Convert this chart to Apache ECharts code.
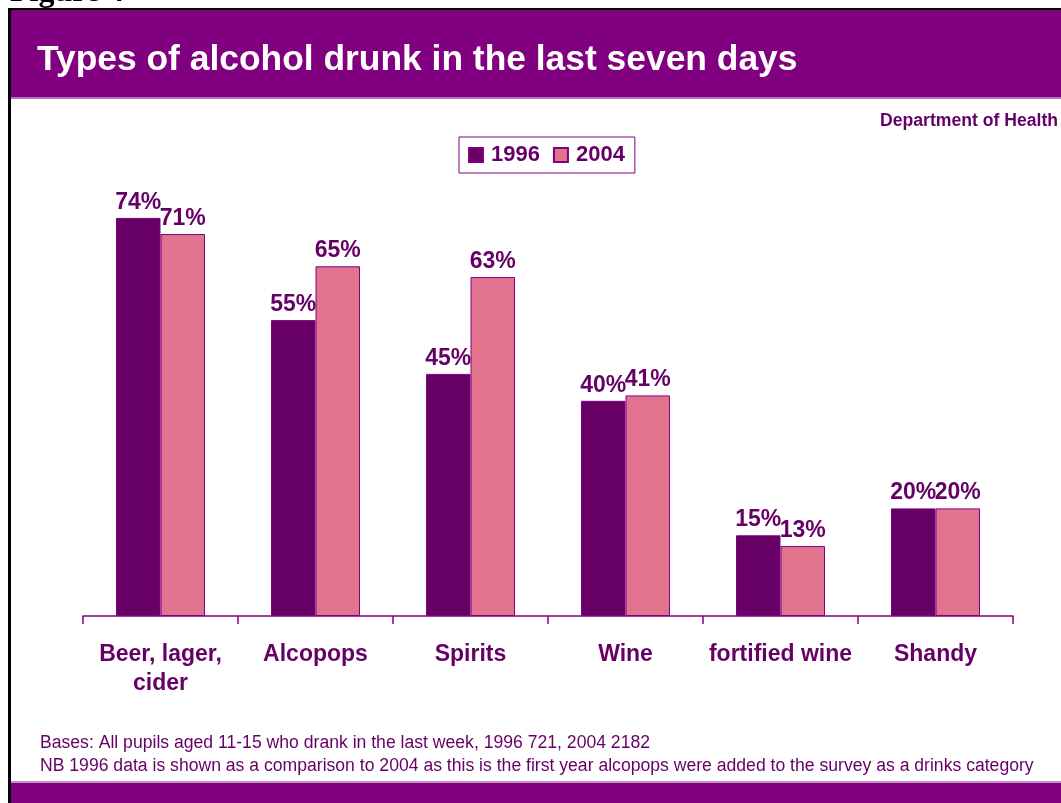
<!DOCTYPE html>
<html>
<head>
<meta charset="utf-8">
<title>Types of alcohol drunk in the last seven days</title>
<script src="https://cdn.jsdelivr.net/npm/echarts@6/dist/echarts.min.js"></script>
<style>
  html, body { margin: 0; padding: 0; background: #ffffff; }
  #chart { width: 1061px; height: 803px; }
</style>
</head>
<body>
<div id="chart"></div>
<script>
// Drink categories and the share of pupils (%) who drank each type
const categories = ['Beer, lager,\ncider', 'Alcopops', 'Spirits', 'Wine', 'fortified wine', 'Shandy'];
const values1996 = [74, 55, 45, 40, 15, 20];
const values2004 = [71, 65, 63, 41, 13, 20];
const seriesNames = ['1996', '2004'];

const titleText = 'Types of alcohol drunk in the last seven days';
const figureText = 'Figure 4';
const sourceText = 'Department of Health';
const noteLines = [
  'Bases: All pupils aged 11-15 who drank in the last week, 1996 721, 2004 2182',
  'NB 1996 data is shown as a comparison to 2004 as this is the first year alcopops were added to the survey as a drinks category'
];

const PURPLE = '#800080';
const DARK = '#660066';
const PINK = '#e2738f';
const FONT = 'Arial, "Liberation Sans", sans-serif';

const chart = echarts.init(document.getElementById('chart'), null, { renderer: 'canvas' });

const barLabel = {
  show: true,
  position: 'top',
  distance: 4,
  formatter: '{c}%',
  color: DARK,
  fontWeight: 'bold',
  fontSize: 23,
  fontFamily: FONT
};

chart.setOption({
  backgroundColor: '#ffffff',
  animation: false,
  graphic: [
    // figure caption above the frame
    { type: 'text', left: 10, top: -23, z: 1,
      style: { text: figureText, fill: '#000', font: 'bold 32px "Times New Roman", "Liberation Serif", serif' } },
    // outer frame
    { type: 'rect', shape: { x: 9, y: 8, width: 1060, height: 2 }, style: { fill: '#000' } },
    { type: 'rect', shape: { x: 8, y: 8, width: 3, height: 800 }, style: { fill: '#000' } },
    // title band
    { type: 'rect', shape: { x: 11, y: 10, width: 1050, height: 87 }, style: { fill: PURPLE } },
    { type: 'rect', shape: { x: 11, y: 97, width: 1050, height: 2 }, style: { fill: '#b870b8' } },
    { type: 'text', x: 37, y: 60,
      style: { text: titleText, fill: '#ffffff', font: 'bold 35.4px ' + FONT, verticalAlign: 'middle' } },
    // source
    { type: 'text', x: 1058, y: 121,
      style: { text: sourceText, fill: DARK, font: 'bold 17.6px ' + FONT, align: 'right', verticalAlign: 'middle' } },
    // notes
    { type: 'text', x: 40, y: 743,
      style: { text: noteLines[0], fill: DARK, font: '17.6px ' + FONT, verticalAlign: 'middle' } },
    { type: 'text', x: 40, y: 766,
      style: { text: noteLines[1], fill: DARK, font: '17.6px ' + FONT, verticalAlign: 'middle' } },
    // footer band
    { type: 'rect', shape: { x: 11, y: 781, width: 1050, height: 2 }, style: { fill: '#c890c8' } },
    { type: 'rect', shape: { x: 11, y: 783, width: 1050, height: 20 }, style: { fill: PURPLE } }
  ],
  legend: {
    data: seriesNames,
    left: 459,
    top: 137,
    orient: 'horizontal',
    padding: [7, 10, 7, 9],
    itemWidth: 14,
    itemHeight: 14,
    itemGap: 13,
    icon: 'rect',
    borderColor: PURPLE,
    borderWidth: 1,
    textStyle: { color: DARK, fontWeight: 'bold', fontSize: 22, fontFamily: FONT, padding: [0, 0, 0, 3] }
  },
  grid: { left: 83, right: 48, top: 185.6, bottom: 187, containLabel: false },
  xAxis: {
    type: 'category',
    data: categories,
    boundaryGap: true,
    axisLine: { show: true, lineStyle: { color: PURPLE, width: 1.5 } },
    axisTick: { show: true, length: 8, lineStyle: { color: PURPLE, width: 1.5 } },
    axisLabel: {
      interval: 0,
      color: DARK,
      fontWeight: 'bold',
      fontSize: 23,
      lineHeight: 29,
      margin: 24,
      fontFamily: FONT
    },
    splitLine: { show: false }
  },
  yAxis: {
    type: 'value',
    min: 0,
    max: 80,
    show: false,
    splitLine: { show: false }
  },
  series: [
    {
      name: seriesNames[0],
      type: 'bar',
      data: values1996,
      barWidth: 44.5,
      barGap: '0%',
      itemStyle: { color: DARK, borderColor: PURPLE, borderWidth: 1 },
      label: barLabel
    },
    {
      name: seriesNames[1],
      type: 'bar',
      data: values2004,
      barWidth: 44.5,
      barGap: '0%',
      itemStyle: { color: PINK, borderColor: PURPLE, borderWidth: 1 },
      label: barLabel
    }
  ]
});
</script>
</body>
</html>
